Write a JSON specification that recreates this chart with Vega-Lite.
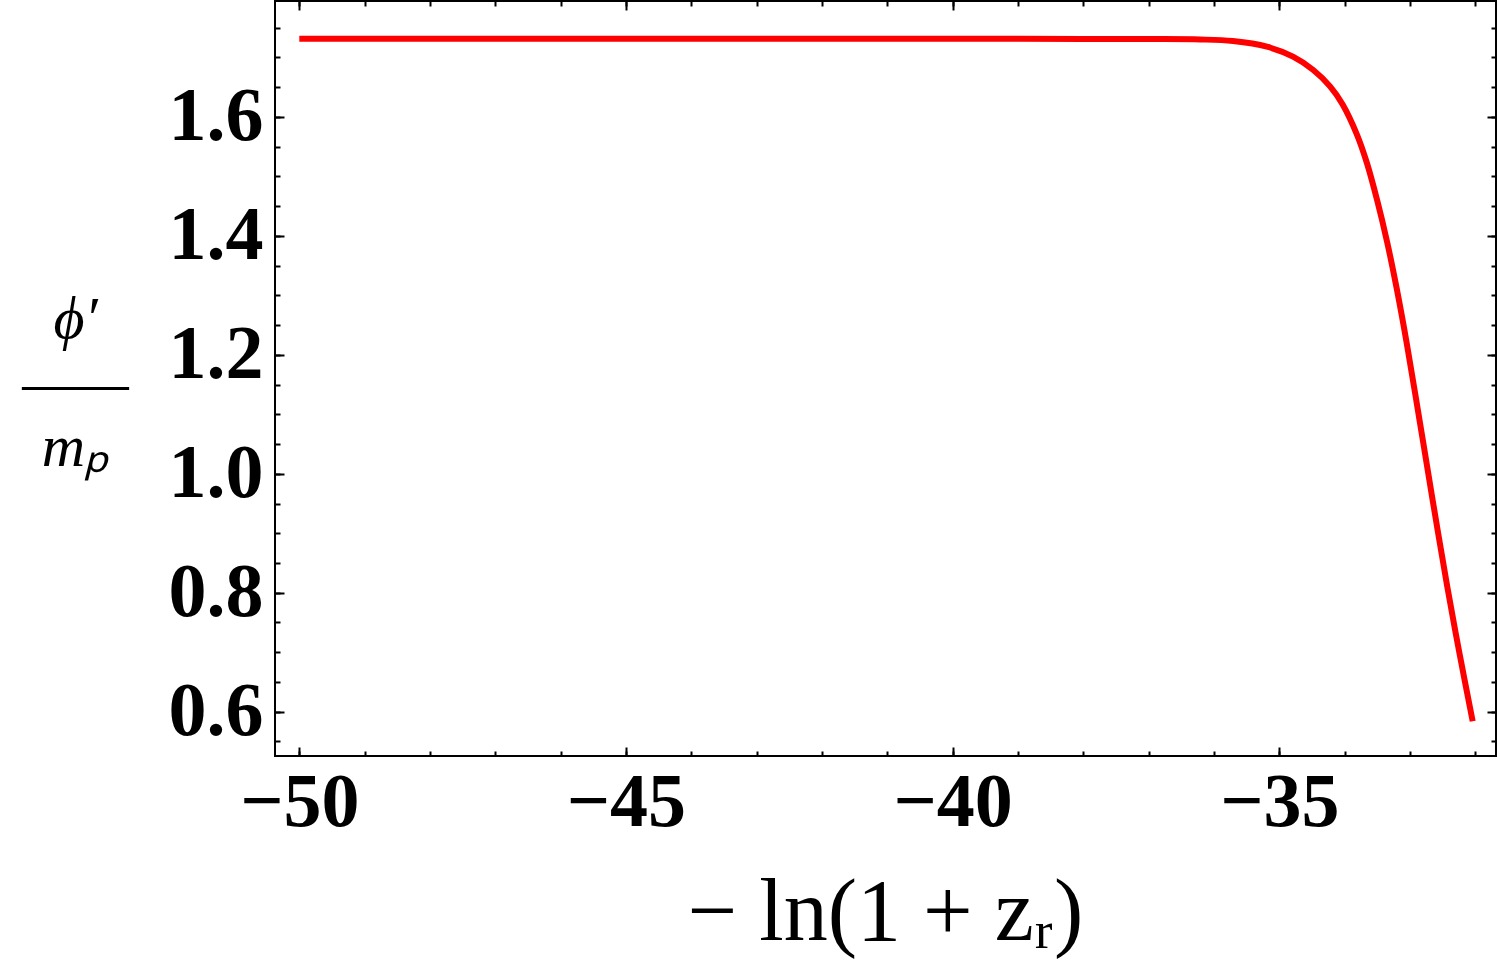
{
  "$schema": "https://vega.github.io/schema/vega-lite/v6.json",
  "width": 1221,
  "height": 755,
  "autosize": "none",
  "padding": {"left": 275, "top": 1, "right": 4, "bottom": 222},
  "background": "white",
  "config": {
    "view": {"stroke": "black", "strokeWidth": 2},
    "axis": {"domain": false, "grid": false, "tickColor": "black", "tickWidth": 2, "labels": false, "title": null}
  },
  "data": {"values": [
    {"x": -50, "y": 1.7316},
    {"x": -47.5, "y": 1.7316},
    {"x": -45, "y": 1.7316},
    {"x": -42.5, "y": 1.7316},
    {"x": -40, "y": 1.7315},
    {"x": -38, "y": 1.7313},
    {"x": -37, "y": 1.731},
    {"x": -36.21, "y": 1.7303},
    {"x": -35.71, "y": 1.7276},
    {"x": -35.19, "y": 1.7182},
    {"x": -34.79, "y": 1.7014},
    {"x": -34.48, "y": 1.679},
    {"x": -34.22, "y": 1.651},
    {"x": -34.03, "y": 1.621},
    {"x": -33.81, "y": 1.57},
    {"x": -33.66, "y": 1.523},
    {"x": -33.5, "y": 1.459},
    {"x": -33.35, "y": 1.39},
    {"x": -33.2, "y": 1.31},
    {"x": -33.05, "y": 1.22},
    {"x": -32.85, "y": 1.088},
    {"x": -32.65, "y": 0.954},
    {"x": -32.43, "y": 0.811},
    {"x": -32.24, "y": 0.697},
    {"x": -32.04, "y": 0.584}
  ]},
  "layer": [
    {
      "mark": {"type": "line", "color": "#ff0000", "strokeWidth": 6, "interpolate": "catmull-rom"},
      "encoding": {
        "x": {"field": "x", "type": "quantitative",
          "scale": {"domain": [-50.372, -31.683], "nice": false, "zero": false},
          "axis": {"orient": "bottom", "values": [-50, -45, -40, -35], "tickSize": -9,
            "labels": true, "labelFont": "Liberation Serif", "labelFontWeight": "bold", "labelFontSize": 76,
            "labelColor": "black", "labelBaseline": "alphabetic", "labelPadding": 78, "labelFlush": false, "format": "d",
            "title": "− ln(1 + zᵣ)", "titleFont": "Liberation Serif", "titleFontWeight": "normal", "titleFontSize": 88,
            "titleColor": "black", "titleX": 610, "titleY": 183, "titleBaseline": "alphabetic", "titleAlign": "center", "titleAnchor": null}},
        "y": {"field": "y", "type": "quantitative",
          "scale": {"domain": [0.5255, 1.795], "nice": false, "zero": false},
          "axis": {"orient": "left", "values": [0.6, 0.8, 1.0, 1.2, 1.4, 1.6], "tickSize": -9,
            "labels": true, "labelFont": "Liberation Serif", "labelFontWeight": "bold", "labelFontSize": 76,
            "labelColor": "black", "labelAlign": "right", "labelBaseline": "middle", "labelPadding": 21, "labelFlush": false, "format": ".1f",
            "title": ["ϕ′", "——", "mₚ"], "titleFont": "Liberation Serif", "titleFontWeight": "normal", "titleFontStyle": "italic", "titleFontSize": 60,
            "titleColor": "black", "titleAngle": 0, "titleX": -200, "titleY": 318, "titleAlign": "center", "titleBaseline": "middle", "titleLineHeight": 64, "titleAnchor": null}}
      }
    },
    {
      "mark": {"type": "line", "opacity": 0},
      "encoding": {
        "x": {"field": "x", "type": "quantitative",
          "axis": {"orient": "bottom", "values": [-50, -49, -48, -47, -46, -45, -44, -43, -42, -41, -40, -39, -38, -37, -36, -35, -34, -33, -32], "tickSize": -5}},
        "y": {"field": "y", "type": "quantitative",
          "axis": {"orient": "left", "values": [0.55, 0.6, 0.65, 0.7, 0.75, 0.8, 0.85, 0.9, 0.95, 1.0, 1.05, 1.1, 1.15, 1.2, 1.25, 1.3, 1.35, 1.4, 1.45, 1.5, 1.55, 1.6, 1.65, 1.7, 1.75], "tickSize": -5}}
      }
    },
    {
      "mark": {"type": "line", "opacity": 0},
      "encoding": {
        "x": {"field": "x", "type": "quantitative",
          "axis": {"orient": "top", "values": [-50, -45, -40, -35], "tickSize": -9}},
        "y": {"field": "y", "type": "quantitative",
          "axis": {"orient": "right", "values": [0.6, 0.8, 1.0, 1.2, 1.4, 1.6], "tickSize": -9}}
      }
    },
    {
      "mark": {"type": "line", "opacity": 0},
      "encoding": {
        "x": {"field": "x", "type": "quantitative",
          "axis": {"orient": "top", "values": [-50, -49, -48, -47, -46, -45, -44, -43, -42, -41, -40, -39, -38, -37, -36, -35, -34, -33, -32], "tickSize": -5}},
        "y": {"field": "y", "type": "quantitative",
          "axis": {"orient": "right", "values": [0.55, 0.6, 0.65, 0.7, 0.75, 0.8, 0.85, 0.9, 0.95, 1.0, 1.05, 1.1, 1.15, 1.2, 1.25, 1.3, 1.35, 1.4, 1.45, 1.5, 1.55, 1.6, 1.65, 1.7, 1.75], "tickSize": -5}}
      }
    }
  ],
  "resolve": {"axis": {"x": "independent", "y": "independent"}}
}
